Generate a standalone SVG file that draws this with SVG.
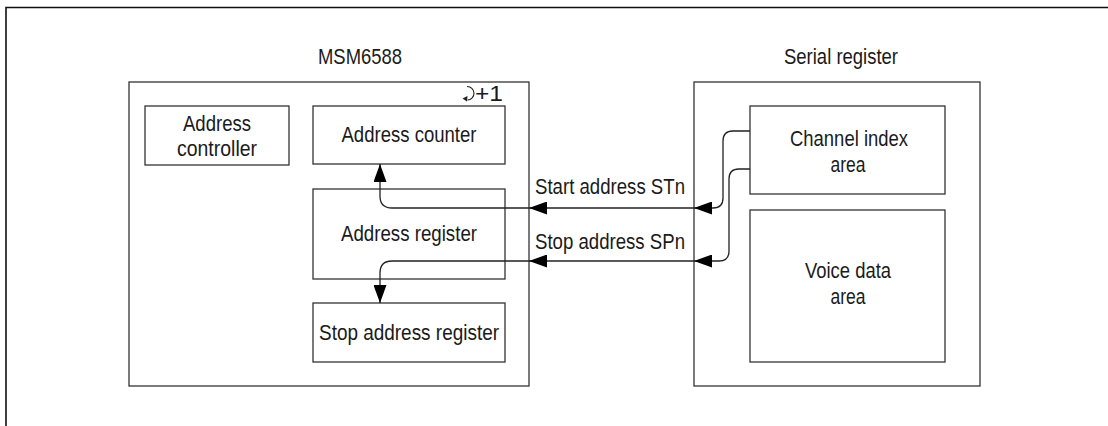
<svg xmlns="http://www.w3.org/2000/svg" width="1108" height="426" viewBox="0 0 1108 426">
<defs>
<style>
.box{fill:#fff;stroke:#333;stroke-width:1.3}
.t{font-family:"Liberation Sans Narrow","Liberation Sans",Arial,sans-serif;font-size:22.5px;fill:#1a1a1a;text-anchor:middle}
.tl{font-family:"Liberation Sans Narrow","Liberation Sans",Arial,sans-serif;font-size:22.5px;fill:#1a1a1a}
.c{fill:none;stroke:#222;stroke-width:1.3}
</style>
<marker id="ah" markerUnits="userSpaceOnUse" markerWidth="18" markerHeight="13" refX="18" refY="6.5" orient="auto" viewBox="0 0 18 13">
<path d="M0,0 L18,6.5 L0,13 z" fill="#000"/>
</marker>
</defs>
<rect width="1108" height="426" fill="#fff"/>
<g id="frame">
<path d="M6,426 V7.5 H1108" fill="none" stroke="#111" stroke-width="1.6"/>
</g>
<g id="msm6588">
<rect class="box" x="129" y="82" width="400" height="304"/>
<text class="tl" x="318" y="63.5" textLength="84" lengthAdjust="spacingAndGlyphs">MSM6588</text>
</g>
<g id="address-controller">
<rect class="box" x="145" y="106" width="144" height="59"/>
<text class="t" x="217" y="130.5" textLength="68" lengthAdjust="spacingAndGlyphs">Address</text>
<text class="t" x="217" y="156" textLength="80" lengthAdjust="spacingAndGlyphs">controller</text>
</g>
<g id="address-counter">
<rect class="box" x="313" y="106" width="192" height="58"/>
<text class="t" x="409" y="142" textLength="135" lengthAdjust="spacingAndGlyphs">Address counter</text>
<path d="M467,86.5 A6.5,6.5 0 0 1 467.5,100" fill="none" stroke="#222" stroke-width="1.1"/>
<path d="M462.5,98.5 L467.5,96 L467,101.5 z" fill="#222"/>
<text class="tl" x="475" y="100.5" textLength="28" lengthAdjust="spacingAndGlyphs">+1</text>
</g>
<g id="address-register">
<rect class="box" x="313" y="189" width="192" height="90"/>
<text class="t" x="409" y="240.5" textLength="136" lengthAdjust="spacingAndGlyphs">Address register</text>
</g>
<g id="stop-address-register">
<rect class="box" x="313" y="303" width="192" height="59"/>
<text class="t" x="409" y="339.5" textLength="180" lengthAdjust="spacingAndGlyphs">Stop address register</text>
</g>
<g id="serial-register">
<rect class="box" x="694" y="82" width="286" height="304"/>
<text class="t" x="841" y="63.5" textLength="114" lengthAdjust="spacingAndGlyphs">Serial register</text>
</g>
<g id="channel-index-area">
<rect class="box" x="750" y="106" width="195" height="88"/>
<text class="t" x="849" y="146" textLength="118" lengthAdjust="spacingAndGlyphs">Channel index</text>
<text class="t" x="848" y="172" textLength="35" lengthAdjust="spacingAndGlyphs">area</text>
</g>
<g id="voice-data-area">
<rect class="box" x="750" y="210" width="195" height="152"/>
<text class="t" x="848" y="278" textLength="86" lengthAdjust="spacingAndGlyphs">Voice data</text>
<text class="t" x="848" y="304" textLength="35" lengthAdjust="spacingAndGlyphs">area</text>
</g>
<g id="connectors">
<path class="c" d="M750,131 H733 Q723,131 723,141 V198 Q723,208 713,208 H694" marker-end="url(#ah)"/>
<path class="c" d="M694,208 H529" marker-end="url(#ah)"/>
<path class="c" d="M529,208 H392 Q380,208 380,196 V164" marker-end="url(#ah)"/>
<path class="c" d="M750,169 H739 Q729,169 729,179 V251 Q729,261 719,261 H694" marker-end="url(#ah)"/>
<path class="c" d="M694,261 H529" marker-end="url(#ah)"/>
<path class="c" d="M529,261 H392 Q380,261 380,273 V303" marker-end="url(#ah)"/>
<text class="tl" x="535" y="194" textLength="150" lengthAdjust="spacingAndGlyphs">Start address STn</text>
<text class="tl" x="535" y="249" textLength="150" lengthAdjust="spacingAndGlyphs">Stop address SPn</text>
</g>
</svg>
